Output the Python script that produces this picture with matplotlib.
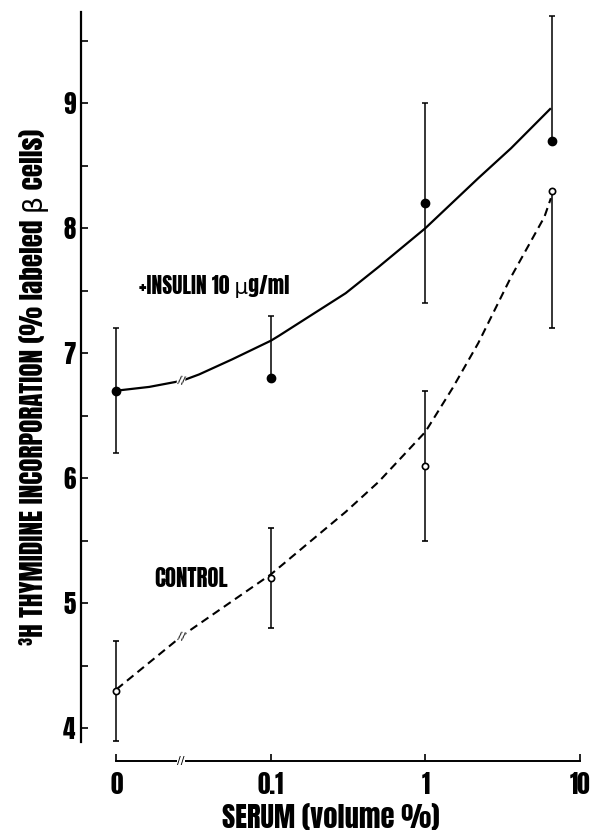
import numpy as np
import matplotlib
matplotlib.use("Agg")
import matplotlib.pyplot as plt

plt.rcParams['font.family'] = ['Anton', 'DejaVu Sans']

# serum (volume %) -- 0 is drawn at the 0.01 position (broken axis)
serum = [0, 0.1, 1, 6.6]

insulin_mean = [6.7, 6.8, 8.2, 8.7]
insulin_err_lo = [0.5, 0.0, 0.8, 0.0]
insulin_err_hi = [0.5, 0.5, 0.8, 1.0]

control_mean = [4.3, 5.2, 6.1, 8.3]
control_err_lo = [0.4, 0.4, 0.6, 1.1]
control_err_hi = [0.4, 0.4, 0.6, 0.0]

# fitted curves (x on the same axis positions)
insulin_curve_x = [0.01, 0.0163, 0.0267, 0.0343, 0.056, 0.1, 0.113, 0.305, 0.498, 1.0, 2.2, 3.59, 6.5]
insulin_curve_y = [6.70, 6.73, 6.78, 6.83, 6.95, 7.10, 7.14, 7.48, 7.69, 8.00, 8.40, 8.64, 8.96]

control_curve_x = [0.01, 0.0267, 0.1, 0.305, 0.498, 1.0, 1.5, 2.2, 3.59, 5.9, 6.5]
control_curve_y = [4.31, 4.74, 5.23, 5.73, 5.97, 6.37, 6.72, 7.08, 7.61, 8.09, 8.24]

xticks = [0.01, 0.1, 1, 10]
xticklabels = ["0", "0.1", "1", "10"]
yticks = [4, 5, 6, 7, 8, 9]


def pos(v):
    v = np.asarray(v, dtype=float)
    return np.where(v == 0, 0.01, v)


fig = plt.figure(figsize=(5.91, 8.30), dpi=100)
ax = fig.add_axes([0.137, 0.0831, 0.844, 0.9024])
ax.set_xscale('log')
ax.set_xlim(10 ** -2.23, 10)
ax.set_ylim(3.736, 9.73)

ax.plot(insulin_curve_x, insulin_curve_y, color='black', lw=1.6, solid_capstyle='butt')
ax.plot(control_curve_x, control_curve_y, color='black', lw=1.5, dashes=(4, 2.5))

ax.errorbar(pos(serum), insulin_mean, yerr=[insulin_err_lo, insulin_err_hi], fmt='o',
            color='black', ms=6, lw=1.1, capsize=2.2, capthick=1.1, zorder=3)
ax.errorbar(pos(serum), control_mean, yerr=[control_err_lo, control_err_hi], fmt='o',
            color='black', mfc='white', mec='black', mew=1.2, ms=4.5, lw=1.1,
            capsize=2.2, capthick=1.1, zorder=3)

# axis break marks
brk = 0.0262
for yb in [6.78, 4.73]:
    ax.text(brk, yb, "//", ha='center', va='center', fontsize=8, rotation=-10,
            family='DejaVu Sans', bbox=dict(facecolor='white', edgecolor='none', pad=0.2))
ax.text(brk, 3.736, "//", ha='center', va='center', fontsize=8, clip_on=False,
        family='DejaVu Sans', bbox=dict(facecolor='white', edgecolor='none', pad=0.2))

for s in ['top', 'right']:
    ax.spines[s].set_visible(False)
ax.spines['left'].set_bounds(3.89, 9.73)
ax.spines['bottom'].set_bounds(0.01, 10)
ax.spines['left'].set_linewidth(1.6)
ax.spines['bottom'].set_linewidth(1.4)

ax.set_xticks(xticks)
ax.set_xticklabels(xticklabels)
ax.xaxis.set_minor_locator(matplotlib.ticker.NullLocator())
ax.set_yticks(yticks)
ax.set_yticks([4.5, 5.5, 6.5, 7.5, 8.5, 9.5], minor=True)
ax.tick_params(axis='both', which='major', direction='in', length=5, width=1.2,
               labelsize=18, pad=4)
ax.tick_params(axis='y', which='minor', direction='in', length=5, width=1.2)
ax.tick_params(axis='x', which='major', pad=8)

ax.set_xlabel("SERUM (volume %)", fontsize=20.5, labelpad=4)
ax.set_ylabel("³H THYMIDINE INCORPORATION (% labeled β cells)", fontsize=19.5, labelpad=10)

ax.text(0.0139, 7.53, "+INSULIN 10 μg/ml", fontsize=15.5, ha='left', va='center')
ax.text(0.0176, 5.2, "CONTROL", fontsize=16.5, ha='left', va='center')

plt.savefig("out.png", dpi=100)
